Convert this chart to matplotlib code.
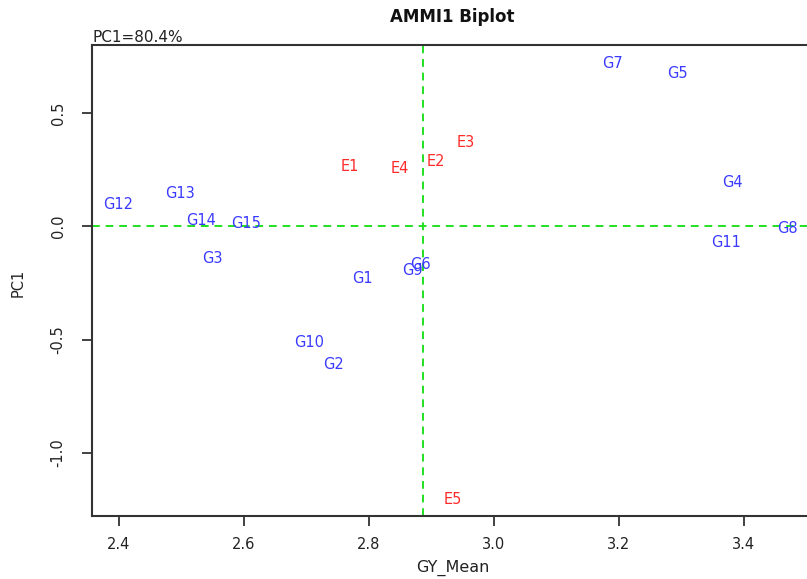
import matplotlib
matplotlib.use("Agg")
import matplotlib.pyplot as plt
from matplotlib.ticker import FixedLocator, FormatStrFormatter

plt.rcParams['font.family'] = ['DejaVu Sans']
plt.rcParams['axes.unicode_minus'] = False

# Genotypes
gen_names = ["G1", "G2", "G3", "G4", "G5", "G6", "G7", "G8", "G9", "G10",
             "G11", "G12", "G13", "G14", "G15"]
gen_gy = [2.790, 2.744, 2.549, 3.382, 3.294, 2.882, 3.190, 3.470, 2.870, 2.704,
          3.371, 2.398, 2.498, 2.531, 2.603]
gen_pc1 = [-0.230, -0.611, -0.142, 0.195, 0.673, -0.168, 0.721, -0.009, -0.195, -0.513,
           -0.071, 0.097, 0.146, 0.027, 0.013]

# Environments
env_names = ["E1", "E2", "E3", "E4", "E5"]
env_gy = [2.770, 2.907, 2.955, 2.850, 2.934]
env_pc1 = [0.265, 0.288, 0.372, 0.257, -1.208]

grand_mean = 2.886
x_ticks = [2.4, 2.6, 2.8, 3.0, 3.2, 3.4]
y_ticks = [-1.0, -0.5, 0.0, 0.5]

fig = plt.figure(figsize=(8.07, 5.79), dpi=100)
ax = fig.add_axes([92/807, 1-516/579, 720/807, (516-45)/579])
ax.set_xlim(2.357, 3.509)
ax.set_ylim(-1.279, 0.801)

ax.axvline(grand_mean, color='#22e022', ls=(0, (4, 3)), lw=1.4, zorder=1)
ax.axhline(0.0, color='#22e022', ls=(0, (4, 3)), lw=1.4, zorder=1)

for n, x, y in zip(gen_names, gen_gy, gen_pc1):
    ax.text(x, y, n, color='#3a3aff', fontsize=10.5, ha='center', va='center', zorder=3)
for n, x, y in zip(env_names, env_gy, env_pc1):
    ax.text(x, y, n, color='#ff2a2a', fontsize=10.5, ha='center', va='center', zorder=3)

for s in ax.spines.values():
    s.set_color('#333333')
    s.set_linewidth(1.5)

ax.xaxis.set_major_locator(FixedLocator(x_ticks))
ax.yaxis.set_major_locator(FixedLocator(y_ticks))
ax.xaxis.set_major_formatter(FormatStrFormatter('%.1f'))
ax.yaxis.set_major_formatter(FormatStrFormatter('%.1f'))
ax.tick_params(axis='both', direction='out', length=7, width=1.3, color='#333333',
               labelsize=10.5, labelcolor='#222222')
ax.tick_params(axis='x', pad=8)
ax.tick_params(axis='y', pad=12)
for lab in ax.get_yticklabels():
    lab.set_rotation(90)
    lab.set_va('center')

fig.text(452/807, 1-17/579, "AMMI1 Biplot", ha='center', va='center',
         fontsize=12, fontweight='bold', color='#111111')
fig.text(92/807, 1-37/579, "PC1=80.4%", ha='left', va='center', fontsize=11, color='#222222')
fig.text(453/807, 1-568/579, "GY_Mean", ha='center', va='center', fontsize=11.5, color='#222222')
fig.text(18/807, 1-283/579, "PC1", ha='center', va='center', rotation=90, fontsize=10.5, color='#222222')

fig.savefig("out.png", dpi=100)
